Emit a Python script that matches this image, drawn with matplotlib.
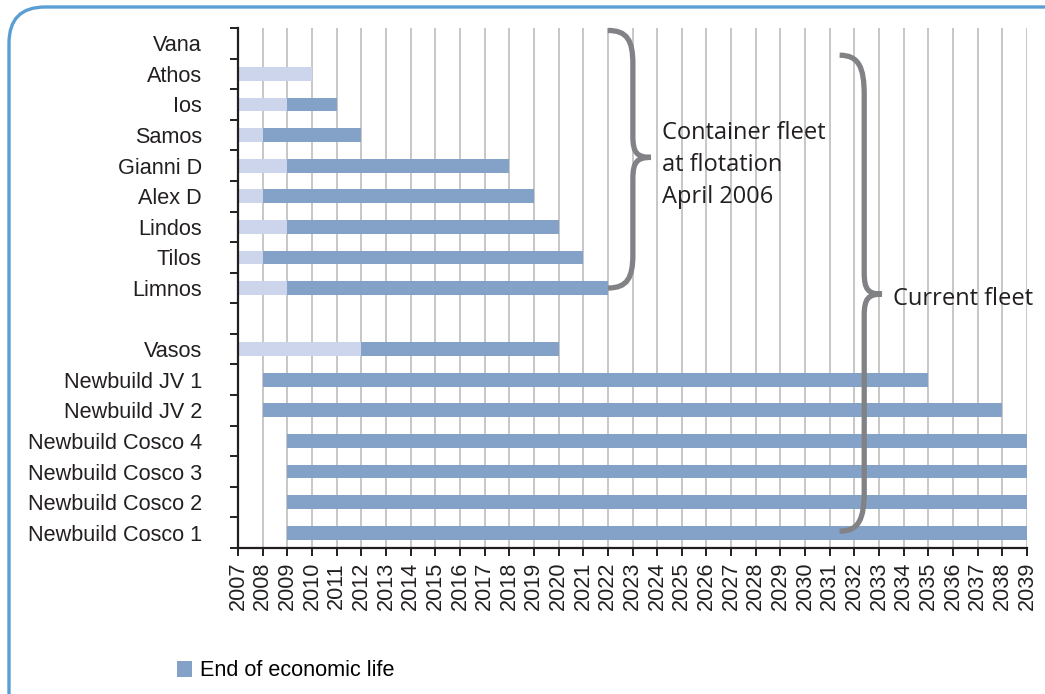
import matplotlib
matplotlib.use("Agg")
import matplotlib.pyplot as plt
from matplotlib.path import Path
from matplotlib.patches import PathPatch, FancyBboxPatch, Patch
import numpy as np

# ---------------- data ----------------
ships = ["Vana", "Athos", "Ios", "Samos", "Gianni D", "Alex D", "Lindos", "Tilos",
         "Limnos", "", "Vasos", "Newbuild JV 1", "Newbuild JV 2",
         "Newbuild Cosco 4", "Newbuild Cosco 3", "Newbuild Cosco 2", "Newbuild Cosco 1"]
offset_years = [0, 0, 0, 0, 0, 0, 0, 0, 0, 0, 0, 1, 1, 2, 2, 2, 2]      # invisible
light_years = [0, 3, 2, 1, 2, 1, 2, 1, 2, 0, 5, 0, 0, 0, 0, 0, 0]       # light segment
life_years = [0, 0, 2, 4, 9, 11, 11, 13, 13, 0, 8, 27, 30, 30, 30, 30, 30]  # end of economic life
start_year = 2007
end_year = 2039
legend_label = "End of economic life"
brace1_text = "Container fleet\nat flotation\nApril 2006"
brace2_text = "Current fleet"

DARK = "#84A1C8"
LIGHT = "#CDD5EC"
TXT = "#231F20"

W, H = 1045, 694
fig = plt.figure(figsize=(W / 100, H / 100), dpi=100)
ax = fig.add_axes([238 / W, 1 - 548 / H, (1027 - 238) / W, (548 - 28) / H])

y = np.arange(len(ships))
off = np.array(offset_years, float)
lt = np.array(light_years, float)
lf = np.array(life_years, float)
bh = 0.45

ax.barh(y, lt, left=start_year + off, height=bh, color=LIGHT, zorder=3)
ax.barh(y, lf, left=start_year + off + lt, height=bh, color=DARK, zorder=3,
        label=legend_label)

ax.set_xlim(start_year, end_year)
ax.set_ylim(len(ships) - 0.5, -0.5)

years = np.arange(start_year, end_year + 1)
ax.set_xticks(years)
ax.set_xticklabels([str(v) for v in years], rotation=90, fontsize=15.6,
                   family="Liberation Sans", color=TXT)
ax.tick_params(axis="x", direction="out", length=6, width=1.4, pad=4, color="#231F20")
ax.set_yticks(y)
ax.set_yticklabels(ships, fontsize=15.6, family="Liberation Sans", color=TXT)
ax.tick_params(axis="y", which="major", length=0, pad=26)
ax.set_yticks(np.arange(-0.5, len(ships), 1.0), minor=True)
ax.tick_params(axis="y", which="minor", direction="out", length=6, width=1.4, color="#231F20")

ax.grid(axis="x", color="#BDBDBD", linewidth=1.2, zorder=0)
ax.set_axisbelow(True)
for s in ["top", "right"]:
    ax.spines[s].set_visible(False)
for s in ["left", "bottom"]:
    ax.spines[s].set_color("#231F20")
    ax.spines[s].set_linewidth(1.6)
    ax.spines[s].set_zorder(5)


def brace(ax, x0, ytop, ybot, ytip, w, r, rt):
    xm = x0 + 0.58 * w
    xt = x0 + w
    verts = [(x0, ytop), (x0 + 0.45 * w, ytop), (xm, ytop + 0.3 * r), (xm, ytop + r),
             (xm, ytip - rt),
             (xm, ytip - 0.2 * rt), (xm + 0.1 * w, ytip), (xt, ytip),
             (xm + 0.1 * w, ytip), (xm, ytip + 0.2 * rt), (xm, ytip + rt),
             (xm, ybot - r),
             (xm, ybot - 0.3 * r), (x0 + 0.45 * w, ybot), (x0, ybot)]
    codes = [Path.MOVETO, Path.CURVE4, Path.CURVE4, Path.CURVE4,
             Path.LINETO,
             Path.CURVE4, Path.CURVE4, Path.CURVE4,
             Path.CURVE4, Path.CURVE4, Path.CURVE4,
             Path.LINETO,
             Path.CURVE4, Path.CURVE4, Path.CURVE4]
    p = PathPatch(Path(verts, codes), facecolor="none", edgecolor="#808285",
                  linewidth=3.8, zorder=6, clip_on=False, capstyle="butt",
                  joinstyle="miter")
    ax.add_patch(p)


brace(ax, 2022.0, -0.42, 8.0, 3.73, 1.75, 1.1, 0.7)
brace(ax, 2031.4, 0.39, 15.95, 8.2, 1.72, 1.3, 0.7)

ax.text(2024.2, 3.98, brace1_text, fontsize=17, family="Open Sans", color=TXT,
        va="center", ha="left", linespacing=1.42, zorder=7)
ax.text(2033.55, 8.35, brace2_text, fontsize=17, family="Open Sans", color=TXT,
        va="center", ha="left", zorder=7)

# legend
fig.legend(handles=[Patch(facecolor=DARK, label=legend_label)],
           loc="center left", bbox_to_anchor=(177 / W, 1 - 671 / H),
           frameon=False, handlelength=0.7, handleheight=0.7, handletextpad=0.35,
           borderpad=0, borderaxespad=0,
           prop={"family": "Liberation Sans", "size": 15.6})

# rounded border
border = FancyBboxPatch((9, -40), 1100, 694 - 7 + 40,
                        boxstyle="round,pad=0,rounding_size=36",
                        transform=None, facecolor="none", edgecolor="#5A9FD4",
                        linewidth=2.4, zorder=10)
fig.patches.append(border)

fig.savefig("out.png", dpi=100)
